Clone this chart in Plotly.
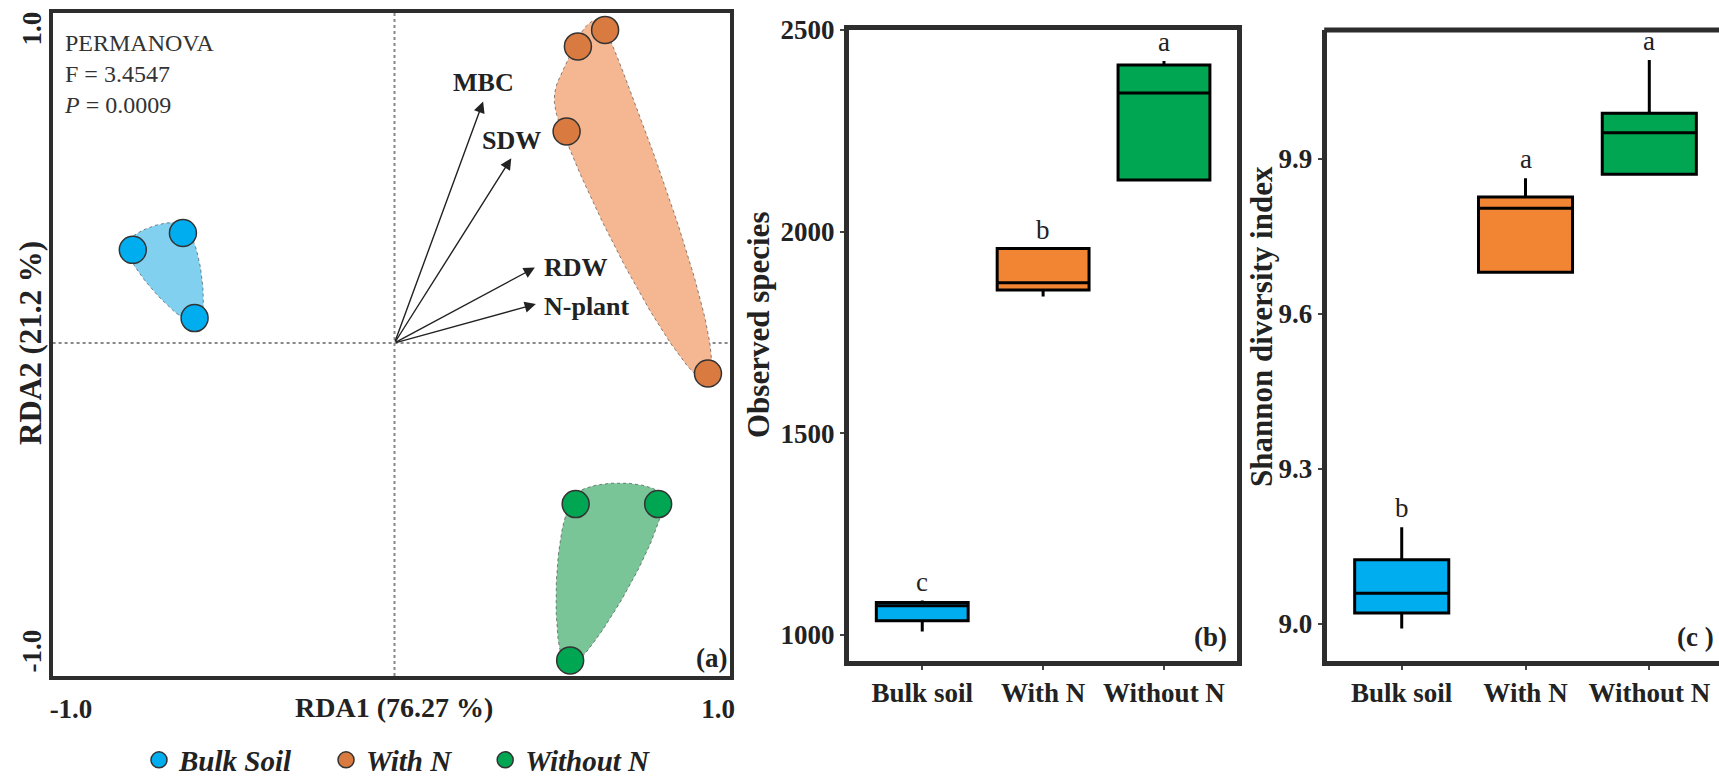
import numpy as np
import plotly.graph_objects as go

W, H = 1719, 777

# ---------------- data ----------------
groups = ["Bulk Soil", "With N", "Without N"]
rda1_bulk = [-0.809, -0.654, -0.618]
rda2_bulk = [0.299, 0.353, 0.080]
rda1_withN = [0.567, 0.651, 0.532, 0.969]
rda2_withN = [0.952, 1.005, 0.679, -0.098]
rda1_withoutN = [0.560, 0.815, 0.543]
rda2_withoutN = [-0.517, -0.517, -1.019]

env_vars = ["MBC", "SDW", "RDW", "N-plant"]
env_rda1 = [0.274, 0.361, 0.434, 0.437]
env_rda2 = [0.775, 0.593, 0.242, 0.125]

categories = ["Bulk soil", "With N", "Without N"]
obs_q1 = [1035, 1855, 2128]
obs_median = [1072, 1873, 2344]
obs_q3 = [1080, 1958, 2413]
obs_low = [1008, 1839, 2128]
obs_high = [1085, 1958, 2423]
obs_letters = ["c", "b", "a"]

sh_q1 = [9.021, 9.680, 9.870]
sh_median = [9.059, 9.804, 9.950]
sh_q3 = [9.124, 9.826, 9.988]
sh_low = [8.991, 9.680, 9.870]
sh_high = [9.187, 9.862, 10.091]
sh_letters = ["b", "a", "a"]

obs_ticks = [1000, 1500, 2000, 2500]
sh_ticks = [9.0, 9.3, 9.6, 9.9]
sh_ticktext = ["9.0", "9.3", "9.6", "9.9"]
rda_ticks = [-1.0, 1.0]
rda_ticktext = ["-1.0", "1.0"]

# ---------------- styles ----------------
FONT = "Liberation Serif"
pt_colors = ["#00AEEF", "#D97A40", "#00A651"]
hull_colors = ["#82D0F0", "#F4B792", "#79C597"]
hull_tension = [0.6, 0.8, 0.55]
hull_expand = [7.0, 5.0, 7.0]
box_colors = ["#00AEEF", "#F28533", "#00A651"]
FRAME = "#2d2d2d"
legend_pad = ["\u00a0\u00a0\u00a0\u00a0", "\u00a0\u00a0\u00a0\u00a0", ""]
# pixel offsets of arrow labels (dx, dy, xanchor)
label_style = {"MBC": (0, 19, "center"), "SDW": (0, 18, "center"),
               "RDW": (7, 0, "left"), "N-plant": (6, -2, "left")}

PX_X, PX_Y = 323.5, 311.5   # pixels per unit (panel a)
xa_dom = [52.6 / W, 730 / W]
ya_dom = [1 - 676 / H, 1 - 13 / H]
xa_rng = [(52.6 - 394.5) / PX_X, (730 - 394.5) / PX_X]
ya_rng = [(343 - 676) / PX_Y, (343 - 13) / PX_Y]

xb_dom = [849 / W, 1236.5 / W]
yb_dom = [1 - 661 / H, 1 - 30 / H]
xc_dom = [1326.7 / W, 1.0]
yc_dom = yb_dom


def convex_hull(pts):
    pts = sorted(set(pts))
    if len(pts) <= 2:
        return pts

    def cross(o, a, b):
        return (a[0] - o[0]) * (b[1] - o[1]) - (a[1] - o[1]) * (b[0] - o[0])
    lower, upper = [], []
    for p in pts:
        while len(lower) >= 2 and cross(lower[-2], lower[-1], p) <= 0:
            lower.pop()
        lower.append(p)
    for p in reversed(pts):
        while len(upper) >= 2 and cross(upper[-2], upper[-1], p) <= 0:
            upper.pop()
        upper.append(p)
    return lower[:-1] + upper[:-1]


def smooth_hull(xs, ys, expand=7.0, s=0.6, n=50):
    pts = [(x * PX_X, y * PX_Y) for x, y in zip(xs, ys)]
    hull = np.array(convex_hull(pts), dtype=float)
    c = hull.mean(axis=0)
    d = hull - c
    d = d / np.linalg.norm(d, axis=1, keepdims=True)
    P = hull + expand * d
    k = len(P)
    out = []
    t = np.linspace(0, 1, n, endpoint=False)
    h00 = 2 * t**3 - 3 * t**2 + 1
    h10 = t**3 - 2 * t**2 + t
    h01 = -2 * t**3 + 3 * t**2
    h11 = t**3 - t**2
    for i in range(k):
        p0, p1, p2, p3 = P[i - 1], P[i], P[(i + 1) % k], P[(i + 2) % k]
        d0 = np.linalg.norm(p1 - p0)
        d1 = np.linalg.norm(p2 - p1)
        d2 = np.linalg.norm(p3 - p2)
        m1 = s * (p2 - p0) * 2 * d1 / (d0 + d1)
        m2 = s * (p3 - p1) * 2 * d1 / (d1 + d2)
        seg = (h00[:, None] * p1 + h10[:, None] * m1 + h01[:, None] * p2 + h11[:, None] * m2)
        out.append(seg)
    out = np.vstack(out + [out[0][:1]])
    return out[:, 0] / PX_X, out[:, 1] / PX_Y


fig = go.Figure()

grp_x = [rda1_bulk, rda1_withN, rda1_withoutN]
grp_y = [rda2_bulk, rda2_withN, rda2_withoutN]

for i in range(3):
    hx, hy = smooth_hull(grp_x[i], grp_y[i], expand=hull_expand[i], s=hull_tension[i])
    fig.add_trace(go.Scatter(x=hx, y=hy, mode="lines", fill="toself",
                             fillcolor=hull_colors[i],
                             line=dict(width=1, color="rgba(60,60,60,0.6)", dash="dot"),
                             hoverinfo="skip", showlegend=False,
                             xaxis="x", yaxis="y"))
for i in range(3):
    fig.add_trace(go.Scatter(x=grp_x[i], y=grp_y[i], mode="markers",
                             name=groups[i] + legend_pad[i],
                             marker=dict(size=27, color=pt_colors[i],
                                         line=dict(color="#333333", width=1.5)),
                             xaxis="x", yaxis="y", showlegend=True))

annotations = []
for name, ex, ey in zip(env_vars, env_rda1, env_rda2):
    annotations.append(dict(x=ex, y=ey, ax=0, ay=0, xref="x", yref="y",
                            axref="x", ayref="y", text="", showarrow=True,
                            arrowhead=2, arrowsize=1.6, arrowwidth=1.4,
                            arrowcolor="#222222", standoff=0))
    dx, dy, anc = label_style[name]
    annotations.append(dict(x=ex, y=ey, xref="x", yref="y", text=name,
                            showarrow=False, xanchor=anc, yanchor="middle",
                            xshift=dx, yshift=dy,
                            font=dict(family=FONT, size=26, color="#222222", weight="bold")))

for i, cat in enumerate(categories):
    fig.add_trace(go.Box(x=[cat], q1=[obs_q1[i]], median=[obs_median[i]], q3=[obs_q3[i]],
                         lowerfence=[obs_low[i]], upperfence=[obs_high[i]],
                         fillcolor=box_colors[i], line=dict(color="black", width=3),
                         whiskerwidth=0, width=0.76, showlegend=False,
                         xaxis="x2", yaxis="y2"))
    fig.add_trace(go.Box(x=[cat], q1=[sh_q1[i]], median=[sh_median[i]], q3=[sh_q3[i]],
                         lowerfence=[sh_low[i]], upperfence=[sh_high[i]],
                         fillcolor=box_colors[i], line=dict(color="black", width=3),
                         whiskerwidth=0, width=0.76, showlegend=False,
                         xaxis="x3", yaxis="y3"))
    annotations.append(dict(x=cat, y=obs_high[i], xref="x2", yref="y2", text=obs_letters[i],
                            showarrow=False, xanchor="center", yanchor="bottom", yshift=2,
                            font=dict(family=FONT, size=27, color="#222222")))
    annotations.append(dict(x=cat, y=sh_high[i], xref="x3", yref="y3", text=sh_letters[i],
                            showarrow=False, xanchor="center", yanchor="bottom", yshift=2,
                            font=dict(family=FONT, size=27, color="#222222")))

bold = dict(family=FONT, size=27, color="#222222", weight="bold")
tickfont = dict(family=FONT, size=27, color="#222222", weight="bold")

# rotated y tick labels of panel (a)
for tv, tt in zip(rda_ticks, rda_ticktext):
    annotations.append(dict(x=31 / W, y=tv, xref="paper", yref="y", text=tt, textangle=-90,
                            showarrow=False, xanchor="center", yanchor="middle", yshift=3,
                            font=tickfont))


def pann(x, y, text, font, xanchor="center", yanchor="middle", **kw):
    return dict(x=x / W, y=1 - y / H, xref="paper", yref="paper", text=text, font=font,
                xanchor=xanchor, yanchor=yanchor, showarrow=False, **kw)


title_font = dict(family=FONT, size=31, color="#222222", weight="bold")
annotations += [
    pann(62, 28, "PERMANOVA<br>F = 3.4547<br><i>P</i> = 0.0009",
         dict(family=FONT, size=24, color="#333333"), xanchor="left", yanchor="top", align="left"),
    pann(394, 707, "RDA1 (76.27 %)", dict(family=FONT, size=28, color="#222222", weight="bold")),
    pann(31, 343, "RDA2 (21.2 %)", title_font, textangle=-90),
    pann(729, 658, "(a)", bold, xanchor="right"),
    pann(1229, 637, "(b)", bold, xanchor="right"),
    pann(1716, 637, "(c )", bold, xanchor="right"),
    pann(758, 325, "Observed species", title_font, textangle=-90),
    pann(1261, 327, "Shannon diversity index", title_font, textangle=-90),
]

shapes = [
    dict(type="line", xref="x", yref="y domain", x0=0, x1=0, y0=0, y1=1,
         line=dict(color="#888888", width=2, dash="dot"), layer="below"),
    dict(type="line", xref="x domain", yref="y", x0=0, x1=1, y0=0, y1=0,
         line=dict(color="#888888", width=2, dash="dot"), layer="below"),
    dict(type="line", xref="paper", yref="paper", x0=xc_dom[0] - 2.5 / W, x1=1.0,
         y0=yc_dom[1], y1=yc_dom[1], line=dict(color=FRAME, width=5)),
]

fig.update_layout(
    width=W, height=H, margin=dict(l=0, r=0, t=0, b=0, autoexpand=False),
    paper_bgcolor="white", plot_bgcolor="white",
    showlegend=True,
    legend=dict(orientation="h", x=139 / W, y=1 - 760 / H, xanchor="left", yanchor="middle",
                font=dict(family=FONT, size=29, color="#222222", weight="bold", style="italic"),
                bgcolor="rgba(0,0,0,0)", itemsizing="trace"),
    xaxis=dict(domain=xa_dom, range=xa_rng, showgrid=False, zeroline=False,
               showline=True, mirror=True, linecolor=FRAME, linewidth=4,
               tickvals=rda_ticks, ticktext=rda_ticktext, ticks="", tickfont=tickfont,
               ticklabelstandoff=6, anchor="y"),
    yaxis=dict(domain=ya_dom, range=ya_rng, showgrid=False, zeroline=False,
               showline=True, mirror=True, linecolor=FRAME, linewidth=4,
               tickvals=rda_ticks, showticklabels=False, ticks="", anchor="x"),
    xaxis2=dict(domain=xb_dom, range=[-0.606, 2.6], type="category", showgrid=False,
                zeroline=False, showline=True, mirror=True, linecolor=FRAME, linewidth=5,
                ticks="outside", ticklen=4, tickwidth=2, tickcolor="#444444",
                tickfont=tickfont, anchor="y2", categoryorder="array", categoryarray=categories),
    yaxis2=dict(domain=yb_dom, range=[935, 2500], showgrid=False, zeroline=False,
                showline=True, mirror=True, linecolor=FRAME, linewidth=5,
                tickvals=obs_ticks, ticks="outside", ticklen=4, tickwidth=2,
                tickcolor="#444444", tickfont=tickfont, anchor="x2"),
    xaxis3=dict(domain=xc_dom, range=[-0.606, 2.563], type="category", showgrid=False,
                zeroline=False, showline=True, mirror=False, linecolor=FRAME, linewidth=5,
                ticks="outside", ticklen=4, tickwidth=2, tickcolor="#444444",
                tickfont=tickfont, anchor="y3", categoryorder="array", categoryarray=categories),
    yaxis3=dict(domain=yc_dom, range=[8.928, 10.149], showgrid=False, zeroline=False,
                showline=True, mirror=False, linecolor=FRAME, linewidth=5,
                tickvals=sh_ticks, ticktext=sh_ticktext, ticks="outside",
                ticklen=4, tickwidth=2, tickcolor="#444444", tickfont=tickfont, anchor="x3"),
    annotations=annotations, shapes=shapes,
)

fig.write_html("out.html", config={"displayModeBar": False},
               post_script="document.body.style.margin='0';document.body.style.padding='0';")
